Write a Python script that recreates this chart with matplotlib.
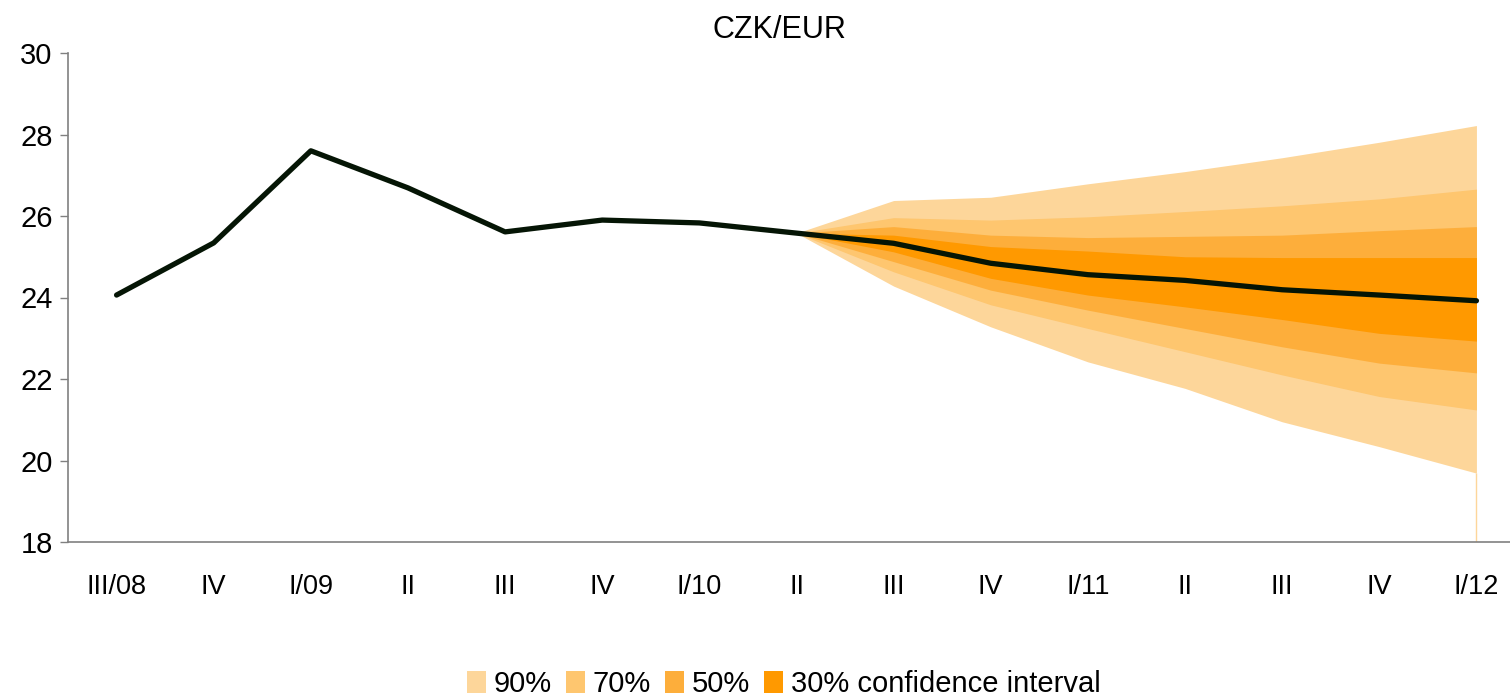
import numpy as np
import matplotlib
matplotlib.use("Agg")
import matplotlib.pyplot as plt
from matplotlib.patches import Patch

quarters = ["III/08", "IV", "I/09", "II", "III", "IV", "I/10", "II",
            "III", "IV", "I/11", "II", "III", "IV", "I/12"]

# CZK/EUR history + central forecast
czk_eur = [24.06, 25.34, 27.60, 26.69, 25.61, 25.90, 25.83, 25.58,
           25.33, 24.84, 24.56, 24.42, 24.19, 24.06, 23.92]

# fan chart bounds, from II/10 (index 7) to I/12
fan_start = 7
upper90 = [25.58, 26.38, 26.46, 26.79, 27.09, 27.43, 27.81, 28.22]
upper70 = [25.58, 25.96, 25.90, 25.98, 26.11, 26.25, 26.42, 26.66]
upper50 = [25.58, 25.74, 25.53, 25.47, 25.50, 25.53, 25.64, 25.74]
upper30 = [25.58, 25.53, 25.25, 25.14, 25.00, 24.98, 24.98, 24.98]
lower30 = [25.58, 25.12, 24.47, 24.06, 23.77, 23.46, 23.12, 22.93]
lower50 = [25.58, 24.88, 24.18, 23.69, 23.24, 22.79, 22.39, 22.15]
lower70 = [25.58, 24.63, 23.82, 23.24, 22.67, 22.10, 21.57, 21.24]
lower90 = [25.58, 24.28, 23.28, 22.42, 21.77, 20.95, 20.34, 19.69]

band_labels = ["90%", "70%", "50%", "30% confidence interval"]
band_colors = ["#FDD69A", "#FEC66F", "#FDAE3B", "#FF9900"]

plt.rcParams["font.family"] = ["Liberation Sans", "DejaVu Sans"]

fig = plt.figure(figsize=(15.1, 6.98), dpi=100)
ax = fig.add_axes([68 / 1510, 156 / 698, 1457 / 1510, 489 / 698])

x = np.arange(len(quarters))
xf = x[fan_start:]

bands = [(upper90, lower90), (upper70, lower70), (upper50, lower50), (upper30, lower30)]
for (up, lo), col in zip(bands, band_colors):
    ax.fill_between(xf, lo, up, color=col, lw=0)

# thin edge of the fan at the last quarter down to the axis
ax.vlines(xf[-1], 18, lower90[-1], color=band_colors[0], lw=1)

ax.plot(x, czk_eur, color="#051505", lw=3.8, solid_capstyle="round",
        solid_joinstyle="round", zorder=5)

ax.set_xlim(-0.5, len(quarters) - 0.5)
ax.set_ylim(18, 30)
ax.set_yticks(np.arange(18, 31, 2))
ax.set_xticks(x)
ax.set_xticklabels(quarters, fontsize=19.5)
ax.tick_params(axis="x", length=0, pad=23)
ax.tick_params(axis="y", length=6, width=1, color="#808080", labelsize=21, pad=5)

for s in ["top", "right"]:
    ax.spines[s].set_visible(False)
for s in ["left", "bottom"]:
    ax.spines[s].set_color("#808080")
    ax.spines[s].set_linewidth(1.2)

fig.text(0.5165, 0.957, "CZK/EUR", ha="center", va="center", fontsize=22,
         fontweight="light")

handles = [Patch(facecolor=c, edgecolor="none") for c in band_colors]
fig.legend(handles, band_labels, loc="center", bbox_to_anchor=(0.519, 0.02),
           ncol=4, frameon=False, prop={"size": 21},
           handlelength=0.65, handleheight=0.75, handletextpad=0.25,
           columnspacing=0.5, borderpad=0)

fig.savefig("out.png", dpi=100)
